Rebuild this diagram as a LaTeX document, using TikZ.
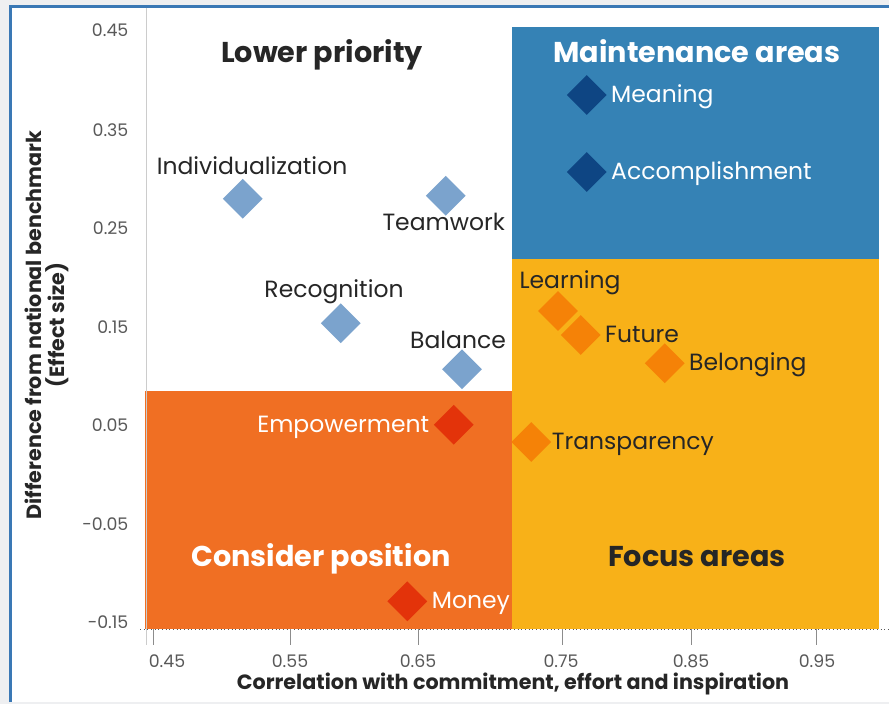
\documentclass[tikz,border=0pt]{standalone}
\usepackage{fontspec}
\setmainfont{Poppins}
\usetikzlibrary{positioning,shapes.geometric}

\definecolor{pagegrey}{HTML}{EEEFF1}
\definecolor{frameblue}{HTML}{3A78B5}
\definecolor{maintblue}{HTML}{3582B5}
\definecolor{focusyellow}{HTML}{F8B118}
\definecolor{considerorange}{HTML}{F06F23}
\definecolor{darkblue}{HTML}{0E4583}
\definecolor{lightblue}{HTML}{7BA3CD}
\definecolor{ptorange}{HTML}{F58207}
\definecolor{ptred}{HTML}{E3330A}
\definecolor{textdark}{HTML}{262626}
\definecolor{tickgrey}{HTML}{595959}

\begin{document}
\begin{tikzpicture}[x=0.75pt, y=-0.75pt,
	pt/.style={diamond, inner sep=0, minimum size=30pt},
	lbl/.style={inner sep=0, text height=0.75em, text depth=0.2em, text=textdark, font=\fontsize{17.6}{19}\selectfont},
	quad/.style={anchor=base, font=\fontsize{21.5}{24}\selectfont\bfseries},
	ytick/.style={anchor=east, text=tickgrey, font=\fontsize{13}{15}\selectfont},
	xtick/.style={anchor=base, text=tickgrey, font=\fontsize{13}{15}\selectfont},
	axtitle/.style={align=center, text=textdark, font=\fontsize{15.5}{17}\selectfont\bfseries}]
	\useasboundingbox (0,0) rectangle (889,704);
	\fill[pagegrey] (0,0) rectangle (889,704);
	\fill[white] (10.5,6.5) rectangle (889,702);
	\draw[frameblue, line width=2.25pt] (10.5,702) -- (10.5,6.5) -- (889,6.5);

	% quadrants
	\fill[maintblue] (512,27) rectangle (879,259);
	\fill[focusyellow] (512,259) rectangle (879,629);
	\fill[considerorange] (145,391) rectangle (512,629);

	% axes
	\draw[black!20, line width=0.75pt] (146,8) -- (146,645);
	\draw[tickgrey, dotted, line width=0.75pt] (140,629) -- (889,629);
	\draw[black!45, line width=0.6pt] (153,629) -- (153,645);
	\draw[black!45, line width=0.6pt] (290,629) -- (290,645);
	\draw[black!45, line width=0.6pt] (418,629) -- (418,645);
	\draw[black!45, line width=0.6pt] (562,629) -- (562,645);
	\draw[black!45, line width=0.6pt] (691,629) -- (691,645);
	\draw[black!45, line width=0.6pt] (816,629) -- (816,645);

	\node[ytick] (y45) at (133,30) {0.45};
	\node[ytick] (y35) at (133,130) {0.35};
	\node[ytick] (y25) at (133,228) {0.25};
	\node[ytick] (y15) at (133,327) {0.15};
	\node[ytick] (y05) at (133,425) {0.05};
	\node[ytick] (ym05) at (133,524) {-0.05};
	\node[ytick] (ym15) at (133,622) {-0.15};

	\node[xtick] (x45) at (167,667) {0.45};
	\node[xtick] (x55) at (290,667) {0.55};
	\node[xtick] (x65) at (418,667) {0.65};
	\node[xtick] (x75) at (561,667) {0.75};
	\node[xtick] (x85) at (691,667) {0.85};
	\node[xtick] (x95) at (817,667) {0.95};

	\node[axtitle] (xtitle) at (513,684) {Correlation with commitment, effort and inspiration};
	\node[axtitle, rotate=90] (ytitle) at (47,325) {Difference from national benchmark\\(Effect size)};

	% quadrant titles
	\node[quad, text=textdark] (lowp) at (322,62) {Lower priority};
	\node[quad, text=white] (maint) at (697,62) {Maintenance areas};
	\node[quad, text=white] (consid) at (321,566) {Consider position};
	\node[quad, text=textdark] (focus) at (697,566) {Focus areas};

	% points
	\node[pt, fill=lightblue] (indiv) at (242.7,198.7) {};
	\node[pt, fill=lightblue] (team) at (445.7,195.7) {};
	\node[pt, fill=lightblue] (recog) at (340.7,323.3) {};
	\node[pt, fill=lightblue] (bal) at (462,369.3) {};
	\node[pt, fill=darkblue] (mean) at (586.7,95) {};
	\node[pt, fill=darkblue] (accomp) at (586.7,172) {};
	\node[pt, fill=ptorange] (learn) at (558,311) {};
	\node[pt, fill=ptorange] (fut) at (580.7,335) {};
	\node[pt, fill=ptorange] (belong) at (664.7,363.3) {};
	\node[pt, fill=ptorange] (transp) at (531.3,442) {};
	\node[pt, fill=ptred] (empow) at (453.7,424.7) {};
	\node[pt, fill=ptred] (money) at (407.3,601.3) {};

	\node[lbl, above=0.75pt of indiv, xshift=7pt] (c1) {Individualization};
	\node[lbl, below=3pt of team, xshift=-1.5pt] (c2) {Teamwork};
	\node[lbl, above=2.25pt of recog, xshift=-5pt] (c3) {Recognition};
	\node[lbl, above=-1.5pt of bal, xshift=-3pt] (c4) {Balance};
	\node[lbl, right=3pt of mean, yshift=-3pt, text=white] (c5) {Meaning};
	\node[lbl, right=3pt of accomp, yshift=-3pt, text=white] (c6) {Accomplishment};
	\node[lbl, above=-0.5pt of learn, xshift=9pt] (c7) {Learning};
	\node[lbl, right=3pt of fut, yshift=-2.5pt] (c8) {Future};
	\node[lbl, right=3pt of belong, yshift=-3pt] (c9) {Belonging};
	\node[lbl, right=0pt of transp, yshift=-3pt] (c10) {Transparency};
	\node[lbl, left=3pt of empow, yshift=-3pt, text=white] (c11) {Empowerment};
	\node[lbl, right=3pt of money, yshift=-3pt, text=white] (c12) {Money};
\end{tikzpicture}
\end{document}
